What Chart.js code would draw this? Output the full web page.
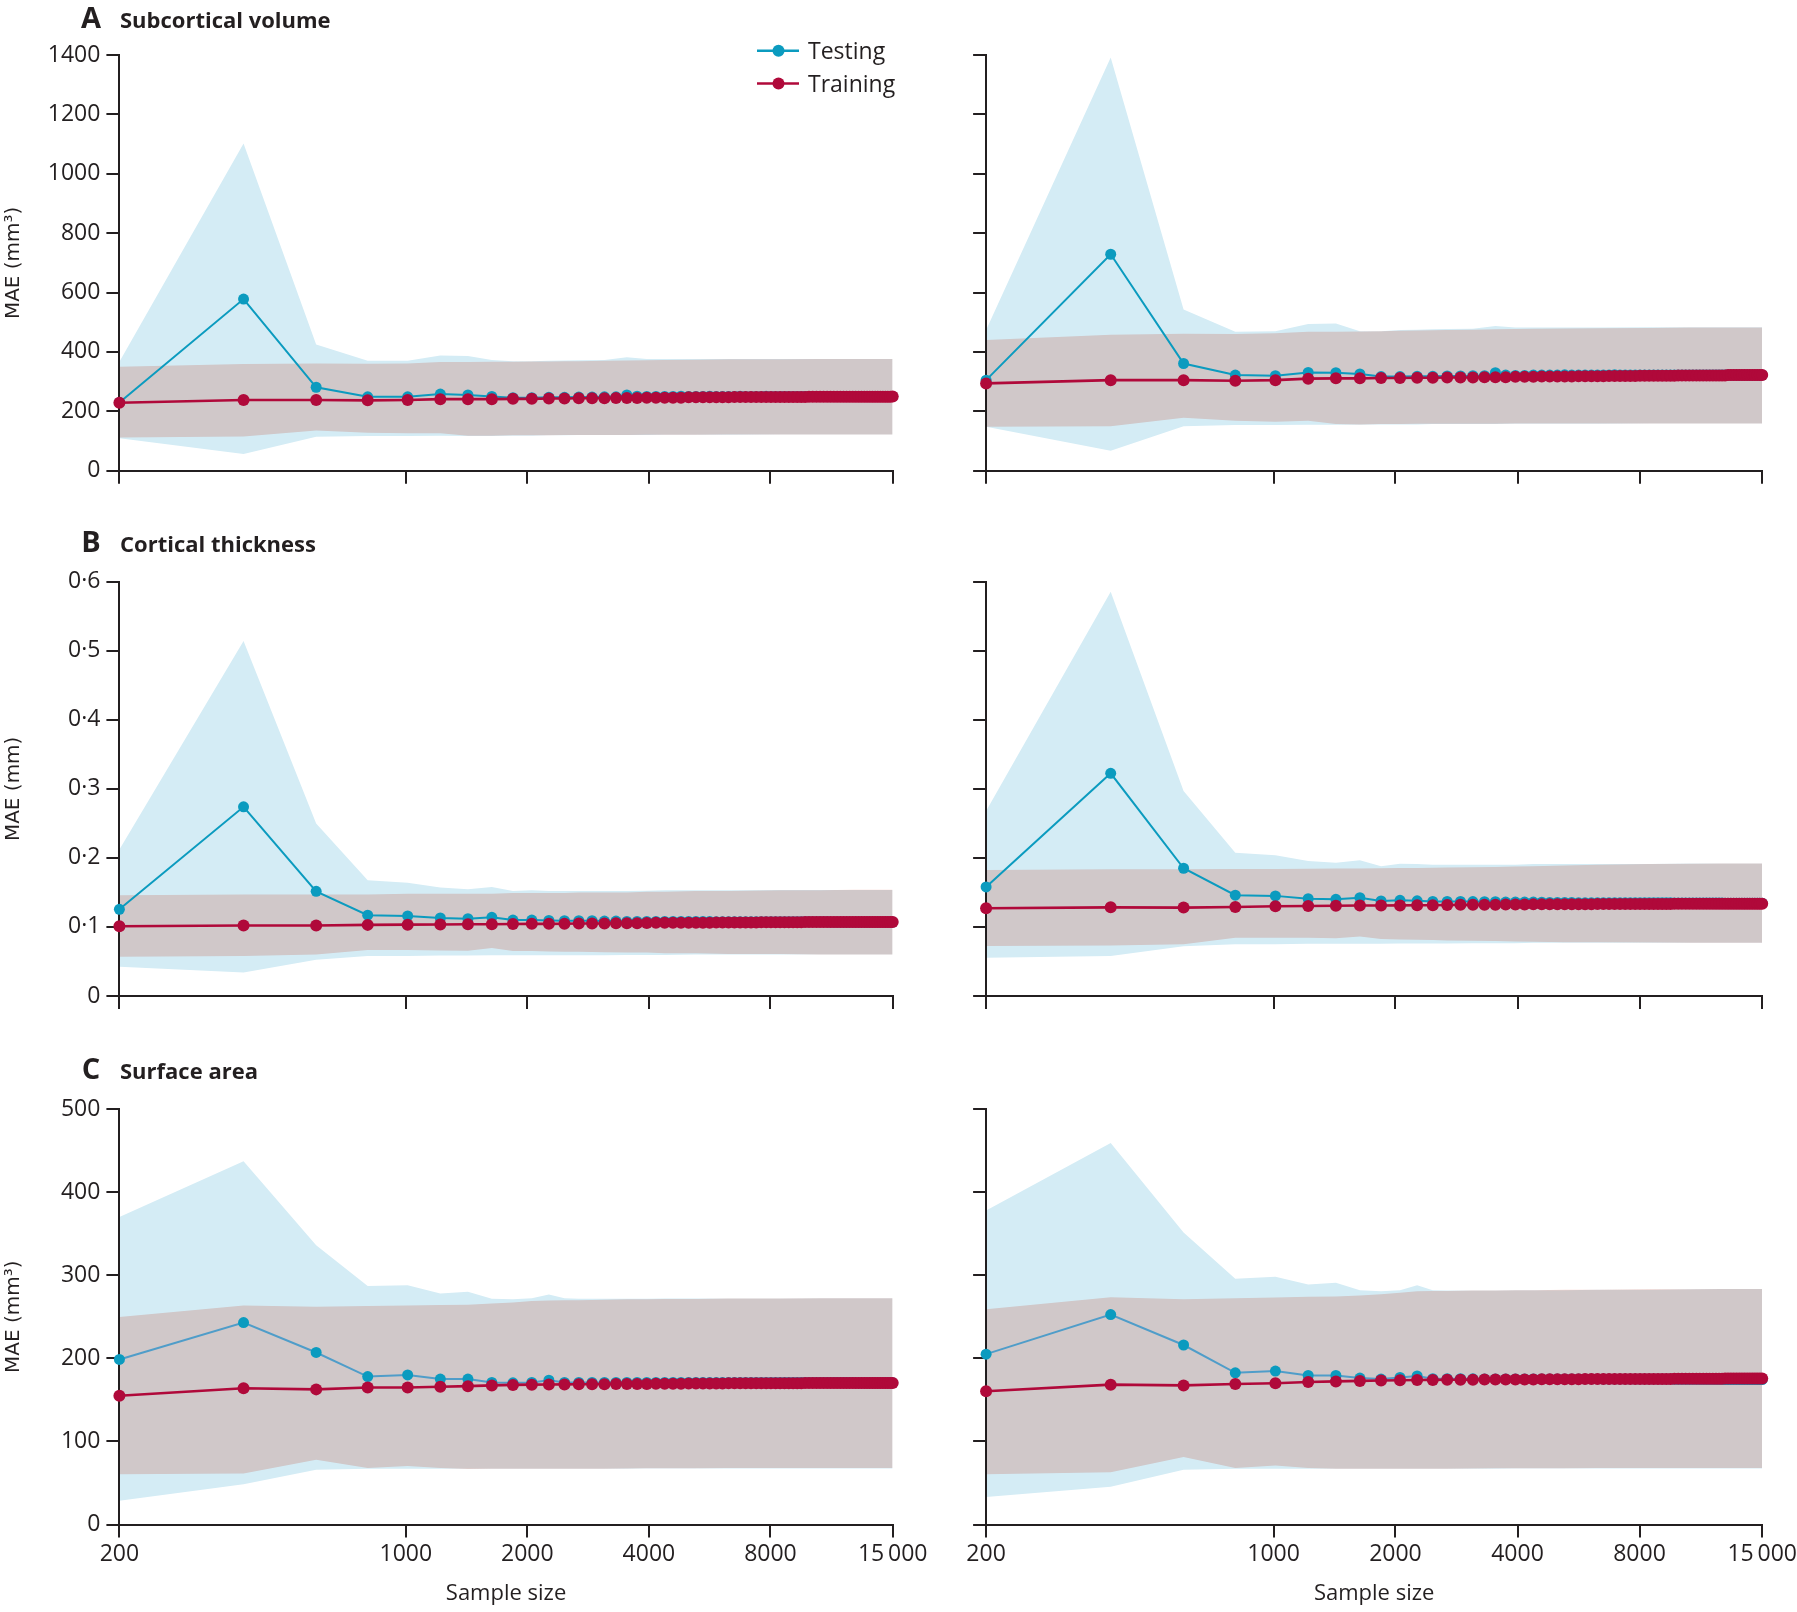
<!DOCTYPE html>
<html>
<head>
<meta charset="utf-8">
<script src="https://cdn.jsdelivr.net/npm/chart.js@4.4.1/dist/chart.umd.min.js"></script>
<style>
body { margin: 0; background: #fff; width: 1797px; height: 1612px; overflow: hidden; position: relative; }
.panel { position: absolute; }
</style>
</head>
<body>
<div class="panel" style="left:0;top:0;width:930px;height:495px"><canvas id="volL"></canvas></div>
<div class="panel" style="left:900px;top:0;width:897px;height:495px"><canvas id="volR"></canvas></div>
<div class="panel" style="left:0;top:500px;width:930px;height:520px"><canvas id="thkL"></canvas></div>
<div class="panel" style="left:900px;top:500px;width:897px;height:520px"><canvas id="thkR"></canvas></div>
<div class="panel" style="left:0;top:1030px;width:930px;height:582px"><canvas id="areaL"></canvas></div>
<div class="panel" style="left:900px;top:1030px;width:897px;height:582px"><canvas id="areaR"></canvas></div>
<script>
// sample sizes of every point on the lines
var sampleSizes = [200,400,600,800,1000,1200,1400,1600,1800,2000,2200,2400,2600,2800,3000,
  3200,3400,3600,3800,4000,4200,4400,4600,4800,5000,5200,5400,5600,5800,6000,
  6200,6400,6600,6800,7000,7200,7400,7600,7800,8000,8200,8400,8600,8800,9000,
  9200,9400,9600,9800,10000,10200,10400,10600,10800,11000,11200,11400,11600,11800,12000,
  12200,12400,12600,12800,13000,13200,13400,13600,13800,14000,14200,14400,14600,14800,15000];
var bandSizes = [200,400,600,800,1000,1200,1400,1600,1800,2000,2200,2400,2600,3000,3400,3800,4200,5000,6000,8000,10000,12000,15000];

// where the printed x ticks sit on the axis (the original ticks sit a little left of the exact values)
var xTickValues = [200,990,1950,3845,7580,15000];
var xTickLabels = ['200','1000','2000','4000','8000','15\u2009000'];
var yTicksVol = [0,200,400,600,800,1000,1200,1400];
var yLabelsVol = ['0','200','400','600','800','1000','1200','1400'];
var yTicksThk = [0,0.1,0.2,0.3,0.4,0.5,0.6];
var yLabelsThk = ['0','0·1','0·2','0·3','0·4','0·5','0·6'];
var yTicksArea = [0,100,200,300,400,500];
var yLabelsArea = ['0','100','200','300','400','500'];

// A subcortical volume, left
var volTestL = [230,578,281,249,249,258,255,250,246,246,247,247,248,248,249,
  249,255,251,250,250,250,250,251,250,250,250,251,250,250,250,
  250,251,250,250,250,250,251,250,250,250,250,250,250,250,250,
  250,250,250,250,250,250,250,250,250,250,250,250,250,250,250,
  250,250,250,250,250,250,250,250,250,250,250,250,250,250,250];
var volTrainL = [229,238,238,237,238,241,241,241,242,242,243,243,244,244,244,
  245,245,245,246,246,246,246,246,247,247,247,247,247,247,247,
  248,248,248,248,248,248,248,248,248,248,248,248,248,248,248,
  248,249,249,249,249,249,249,249,249,249,249,249,249,249,249,
  249,249,249,249,249,249,249,249,249,249,249,249,249,249,250];
var volTestHiL = [367,1102,425,370,370,388,386,373,369,369,370,371,372,373,382,376,376,376,376,376,376,376,376];
var volTestLoL = [109,56,114,117,117,118,117,117,118,118,119,119,120,120,120,120,121,121,121,122,122,122,122];
var volTrainHiL = [350,359,361,360,361,366,366,367,367,368,368,369,369,370,371,372,373,374,375,375,376,376,376];
var volTrainLoL = [112,115,135,128,126,126,118,118,119,119,119,120,120,120,120,121,121,121,122,122,122,122,122];

// A subcortical volume, right
var volTestR = [305,729,361,322,320,331,330,326,317,317,318,318,319,319,320,
  320,330,322,321,321,322,322,322,322,323,322,322,322,322,322,
  322,322,323,322,322,322,322,322,322,322,322,322,322,322,322,
  322,322,322,322,322,322,322,322,322,322,322,322,322,322,322,
  322,322,322,322,322,322,322,322,322,322,322,322,322,322,322];
var volTrainR = [294,305,305,303,305,310,311,311,312,312,313,313,314,314,314,
  315,315,315,316,316,316,317,317,317,317,317,318,318,318,318,
  318,319,319,319,319,319,319,320,320,320,320,320,320,320,320,
  320,321,321,321,321,321,321,321,321,321,321,321,321,321,321,
  321,322,322,322,322,322,322,322,322,322,322,322,322,322,322];
var volTestHiR = [474,1392,543,468,470,494,496,470,470,474,475,476,477,478,487,482,482,482,482,483,483,483,483];
var volTestLoR = [148,67,150,154,154,155,155,155,156,156,156,157,157,157,157,158,158,158,158,159,159,159,159];
var volTrainHiR = [440,458,461,460,463,468,468,469,470,471,472,473,474,475,476,477,478,479,480,481,482,482,482];
var volTrainLoR = [148,150,178,168,165,168,157,156,157,157,158,158,158,158,158,159,159,159,159,159,159,159,159];

// B cortical thickness, left
var thkTestL = [0.1255,0.274,0.1516,0.117,0.116,0.113,0.112,0.114,0.110,0.110,0.1095,0.109,0.109,0.109,0.1085,
  0.1085,0.108,0.108,0.108,0.108,0.108,0.108,0.108,0.108,0.108,0.108,0.108,0.1075,0.1075,0.1075,
  0.1075,0.1075,0.1075,0.1075,0.1075,0.1075,0.1075,0.1075,0.1075,0.1075,0.1075,0.1075,0.1075,0.1075,0.1075,
  0.1075,0.1075,0.1075,0.1075,0.1075,0.1075,0.1075,0.107,0.107,0.107,0.107,0.107,0.107,0.107,0.107,
  0.107,0.107,0.107,0.107,0.107,0.107,0.107,0.107,0.107,0.107,0.107,0.107,0.107,0.107,0.107];
var thkTrainL = [0.101,0.102,0.102,0.103,0.1033,0.1035,0.104,0.104,0.1042,0.1045,0.1045,0.1047,0.105,0.105,0.105,
  0.1052,0.1055,0.1055,0.1057,0.106,0.106,0.106,0.106,0.106,0.1062,0.1062,0.1062,0.1065,0.1065,0.1065,
  0.1065,0.1065,0.1065,0.1065,0.1065,0.1068,0.1068,0.1068,0.1068,0.1068,0.1068,0.1068,0.1068,0.1068,0.1068,
  0.107,0.107,0.107,0.107,0.107,0.107,0.107,0.107,0.107,0.107,0.107,0.107,0.107,0.107,0.107,
  0.107,0.107,0.107,0.107,0.107,0.107,0.107,0.107,0.107,0.107,0.107,0.107,0.107,0.107,0.107];
var thkTestHiL = [0.212,0.514,0.250,0.1675,0.164,0.157,0.1545,0.158,0.152,0.153,0.152,0.152,0.152,0.152,0.152,0.1525,0.153,0.153,0.153,0.1535,0.1535,0.1535,0.1535];
var thkTestLoL = [0.0425,0.034,0.0526,0.058,0.058,0.0585,0.0585,0.059,0.059,0.059,0.059,0.059,0.059,0.059,0.0595,0.0595,0.0595,0.06,0.06,0.06,0.06,0.06,0.06];
var thkTrainHiL = [0.146,0.147,0.147,0.147,0.148,0.148,0.148,0.148,0.149,0.149,0.149,0.149,0.150,0.150,0.150,0.151,0.151,0.152,0.152,0.153,0.153,0.154,0.154];
var thkTrainLoL = [0.057,0.058,0.060,0.0666,0.0666,0.066,0.0657,0.0695,0.065,0.065,0.0645,0.064,0.064,0.0635,0.063,0.063,0.062,0.062,0.061,0.061,0.060,0.060,0.060];

// B cortical thickness, right
var thkTestR = [0.158,0.3225,0.185,0.146,0.145,0.141,0.140,0.1424,0.1376,0.1385,0.1378,0.137,0.137,0.137,0.1368,
  0.1365,0.1365,0.136,0.136,0.136,0.136,0.1358,0.1355,0.1355,0.1355,0.1355,0.135,0.135,0.135,0.135,
  0.135,0.135,0.135,0.135,0.135,0.135,0.135,0.135,0.135,0.135,0.135,0.135,0.135,0.135,0.135,
  0.1348,0.1348,0.1348,0.1348,0.1348,0.1348,0.1348,0.1348,0.1348,0.1348,0.1348,0.1348,0.1348,0.1348,0.1348,
  0.1345,0.1345,0.1345,0.1345,0.1345,0.1345,0.1345,0.1345,0.1345,0.1345,0.1345,0.1345,0.1345,0.1345,0.1345];
var thkTrainR = [0.127,0.1284,0.128,0.129,0.130,0.1303,0.1306,0.131,0.131,0.1312,0.1315,0.1315,0.1318,0.132,0.132,
  0.1322,0.1322,0.1325,0.1325,0.1326,0.1327,0.1328,0.1329,0.133,0.133,0.133,0.133,0.133,0.133,0.1332,
  0.1333,0.1333,0.1333,0.1333,0.1333,0.1333,0.1333,0.1333,0.1333,0.1333,0.1333,0.1333,0.1333,0.1333,0.1333,
  0.1335,0.1335,0.1335,0.1335,0.1335,0.1335,0.1335,0.1335,0.1335,0.1335,0.1335,0.1335,0.1335,0.1335,0.1335,
  0.1337,0.1337,0.1337,0.1337,0.1337,0.1337,0.1337,0.1337,0.1337,0.1337,0.1337,0.1337,0.1337,0.1337,0.1337];
var thkTestHiR = [0.268,0.5855,0.297,0.2076,0.2037,0.1955,0.193,0.1965,0.188,0.1916,0.191,0.190,0.190,0.190,0.190,0.190,0.191,0.191,0.191,0.191,0.192,0.192,0.192];
var thkTestLoR = [0.0555,0.058,0.072,0.075,0.075,0.0755,0.0755,0.0755,0.0758,0.076,0.076,0.076,0.076,0.0765,0.0765,0.0765,0.077,0.077,0.077,0.077,0.077,0.077,0.077];
var thkTrainHiR = [0.1825,0.1834,0.1836,0.1838,0.184,0.1842,0.1845,0.1848,0.185,0.1853,0.1855,0.1858,0.186,0.1865,0.187,0.1875,0.188,0.189,0.190,0.191,0.1915,0.192,0.192];
var thkTrainLoR = [0.0724,0.073,0.075,0.0845,0.0845,0.0845,0.0835,0.086,0.0825,0.082,0.0815,0.081,0.0805,0.080,0.0795,0.079,0.0785,0.078,0.078,0.0775,0.077,0.077,0.077];

// C surface area, left
var areaTestL = [198.6,243,207,178,180,175,175,171,170.5,171,173.6,171,171,171,171,
  171,171,171,171,171,171,171,171,171,171,171,171,171,171,171,
  171,171,171,171,171,171,171,171,171,171,171,171,171,171,171,
  170.8,170.8,170.8,170.8,170.8,170.8,170.8,170.8,170.8,170.8,170.8,170.8,170.8,170.8,170.8,
  170.5,170.5,170.5,170.5,170.5,170.5,170.5,170.5,170.5,170.5,170.5,170.5,170.5,170.5,170.5];
var areaTrainL = [155,164,162.6,164.8,164.8,165.7,166.5,167.4,168,168.3,168.5,168.6,168.7,168.8,168.9,
  169,169,169.1,169.2,169.3,169.4,169.5,169.5,169.6,169.6,169.7,169.7,169.8,169.8,169.9,
  170,170,170,170,170,170,170,170,170,170,170,170,170,170,170,
  170.2,170.2,170.2,170.2,170.2,170.2,170.2,170.2,170.2,170.2,170.2,170.2,170.2,170.2,170.2,
  170.4,170.4,170.4,170.4,170.4,170.4,170.4,170.4,170.4,170.4,170.4,170.4,170.4,170.4,170.4];
var areaTestHiL = [370,437,336,287,288,278,280,271.6,271,272.4,276.8,272.4,271.6,271.6,271.6,271.8,272,272,272,272,272.2,272.4,272.4];
var areaTestLoL = [28.6,48.3,66,67,67,67,67,67,67,67,67,67,67,67,67,67.5,67.5,67.5,67.5,67.5,67.5,67.5,67.5];
var areaTrainHiL = [249.6,263.6,262,263,263.6,264,264.5,266,267,269,269.5,270,270,270.5,271,271,271.5,271.5,272,272,272.2,272.4,272.4];
var areaTrainLoL = [60.6,61.5,77.8,68,70.3,68,66.8,67,67,67,67,67,67,67.2,67.4,67.6,67.6,67.8,68,68,68,68,68];

// C surface area, right
var areaTestR = [205,252.6,216,182.5,184.7,179.3,179.3,176.2,175,177,178.8,175.5,175.5,175.4,175.3,
  175.2,175.2,175.2,175.2,175.2,175.2,175.2,175.2,175.2,175.2,175.2,175.2,175.2,175.2,175.2,
  175,175,175,175,175,175,175,175,175,175,175,175,175,175,175,
  174.8,174.8,174.8,174.8,174.8,174.8,174.8,174.8,174.8,174.8,174.8,174.8,174.8,174.8,174.8,
  174.5,174.5,174.5,174.5,174.5,174.5,174.5,174.5,174.5,174.5,174.5,174.5,174.5,174.5,174.5];
var areaTrainR = [160.4,168.3,167.4,169,170,171.4,172.2,172.8,173.2,173.5,173.8,174,174.1,174.2,174.3,
  174.4,174.4,174.5,174.5,174.6,174.6,174.7,174.7,174.8,174.8,174.9,174.9,175,175,175,
  175.1,175.1,175.1,175.1,175.1,175.1,175.1,175.1,175.1,175.1,175.1,175.1,175.1,175.1,175.1,
  175.3,175.3,175.3,175.3,175.3,175.3,175.3,175.3,175.3,175.3,175.3,175.3,175.3,175.3,175.3,
  175.6,175.6,175.6,175.6,175.6,175.6,175.6,175.6,175.6,175.6,175.6,175.6,175.6,175.6,175.6];
var areaTestHiR = [378,459,351.5,295.7,298,288.7,291,282,280.8,282,287.8,282,281.6,281.6,281.6,281.8,282,282,282.4,282.6,283,283.4,283.4];
var areaTestLoR = [33,45.3,66,67,67,67,67,67,67,67,67,67,67,67,67,67.5,67.5,67.5,67.5,67.5,67.5,67.5,67.5];
var areaTrainHiR = [259,273.5,271,272.4,273.3,274,274.5,275.5,277,279,280.8,281,281,281.5,281.5,282,282,282.5,282.5,283,283,283.4,283.4];
var areaTrainLoR = [60.6,62.8,81.3,68,71,68,67,67,67,67,67,67,67.2,67.4,67.6,67.6,67.6,67.8,68,68,68,68,68];

var INK = '#231f20';
var TEST = '#0b9bbf', TRAIN = '#b0093a';
var TEST_BAND = '#d4ecf5', TRAIN_BAND = '#fad8d2';
var FONT = '"Open Sans", "Liberation Sans", sans-serif';

Chart.defaults.font.family = FONT;
Chart.defaults.color = INK;

function pts(xs, ys) {
  return xs.map(function (x, i) { return {x: x, y: ys[i]}; });
}

// bands multiply where they overlap (grey), lines drawn normally on top
var blend = {
  id: 'blend',
  beforeDatasetsDraw: function (chart) { chart.ctx.globalCompositeOperation = 'multiply'; },
  beforeDatasetDraw: function (chart, args) {
    if (args.index < 2) chart.ctx.globalCompositeOperation = 'source-over';
  },
  afterDatasetsDraw: function (chart) { chart.ctx.globalCompositeOperation = 'source-over'; }
};

// panel letter, panel title and the legend
var panelText = {
  id: 'panelText',
  afterDraw: function (chart, args, o) {
    var ctx = chart.ctx;
    ctx.save();
    ctx.fillStyle = INK;
    ctx.textBaseline = 'alphabetic';
    if (o.letter) {
      ctx.font = 'bold 29px ' + FONT;
      ctx.textAlign = 'center';
      ctx.fillText(o.letter, 91, o.y);
      ctx.font = 'bold 22px ' + FONT;
      ctx.textAlign = 'left';
      ctx.fillText(o.title, 120, o.y);
    }
    if (o.legend) {
      var rows = [{label: 'Testing', color: TEST, y: 50.7}, {label: 'Training', color: TRAIN, y: 83.5}];
      rows.forEach(function (r) {
        ctx.strokeStyle = r.color;
        ctx.lineWidth = 2.5;
        ctx.beginPath(); ctx.moveTo(757, r.y); ctx.lineTo(799, r.y); ctx.stroke();
        ctx.fillStyle = r.color;
        ctx.beginPath(); ctx.arc(778.5, r.y, 6, 0, Math.PI * 2); ctx.fill();
        ctx.fillStyle = INK;
        ctx.font = '23px ' + FONT;
        ctx.textAlign = 'left';
        ctx.fillText(r.label, 808, r.y + 8.5);
      });
    }
    ctx.restore();
  }
};

function lineSet(label, ys, color, lineColor, width, radius) {
  return {
    label: label, data: pts(sampleSizes, ys),
    borderColor: lineColor, backgroundColor: color, borderWidth: width,
    pointRadius: radius, pointBackgroundColor: color, pointBorderColor: color, pointBorderWidth: 0,
    tension: 0, fill: false, clip: false
  };
}

function bandEdge(ys, fill, color) {
  return {
    data: pts(bandSizes, ys), fill: fill, backgroundColor: color || 'rgba(0,0,0,0)',
    borderColor: 'rgba(0,0,0,0)', borderWidth: 0, pointRadius: 0, pointHoverRadius: 0, tension: 0
  };
}

function makePanel(id, c) {
  var axisGrid = {drawOnChartArea: false, drawTicks: true, tickLength: 13, color: INK, lineWidth: 2};
  new Chart(document.getElementById(id), {
    type: 'line',
    data: {
      datasets: [
        lineSet('Training', c.train, TRAIN, TRAIN, 2.6, 6),
        lineSet('Testing', c.test, TEST, c.testLine || TEST, 2, 5.5),
        bandEdge(c.testLo, false),
        bandEdge(c.testHi, '-1', TEST_BAND),
        bandEdge(c.trainLo, false),
        bandEdge(c.trainHi, '-1', TRAIN_BAND)
      ]
    },
    options: {
      responsive: true,
      maintainAspectRatio: false,
      animation: false,
      events: [],
      layout: {padding: {top: c.top, right: c.right, bottom: c.bottom, left: 0}},
      plugins: {
        legend: {display: false},
        tooltip: {enabled: false},
        panelText: {letter: c.letter, title: c.title, y: c.titleY, legend: c.legend}
      },
      scales: {
        x: {
          type: 'logarithmic', min: 200, max: 15000,
          afterBuildTicks: function (s) { s.ticks = xTickValues.map(function (v) { return {value: v}; }); },
          afterFit: function (s) { s.height = c.xh; s.paddingLeft = 0; s.paddingRight = 0; },
          ticks: {
            display: c.xLabels, autoSkip: false, maxRotation: 0, padding: 3, color: INK,
            font: {size: 23}, callback: function (v, i) { return xTickLabels[i]; }
          },
          grid: axisGrid,
          border: {color: INK, width: 2},
          title: {display: c.xLabels, text: 'Sample size', color: INK, font: {size: 22}, padding: 0}
        },
        y: {
          min: 0, max: c.yTicks[c.yTicks.length - 1],
          afterBuildTicks: function (s) { s.ticks = c.yTicks.map(function (v) { return {value: v}; }); },
          afterFit: function (s) { s.width = c.yw; s.paddingTop = 0; s.paddingBottom = 0; },
          ticks: {
            display: c.yLabels !== null, padding: 6, color: INK, font: {size: 23},
            callback: function (v, i) { return c.yLabels ? c.yLabels[i] : ''; }
          },
          grid: axisGrid,
          border: {color: INK, width: 2},
          title: {
            display: !!c.yTitle, text: c.yTitle, color: INK,
            font: {family: '"DejaVu Sans", sans-serif', size: 20}, padding: {top: 2, bottom: 0}
          }
        }
      }
    },
    plugins: [blend, panelText]
  });
}

var leftCol = {yw: 119.4, right: 37.3};
var rightCol = {yw: 86.1, right: 34.8};

function panel(col, row, series) {
  return Object.assign({}, col, row, series);
}

var rowA = {top: 55, bottom: 0, xh: 24.3, xLabels: false, yTicks: yTicksVol};
var rowB = {top: 81.7, bottom: 0, xh: 24, xLabels: false, yTicks: yTicksThk};
var rowC = {top: 79, bottom: 5, xh: 82.5, xLabels: true, yTicks: yTicksArea, testLine: '#4f9dc9'};

makePanel('volL', panel(leftCol, rowA, {
  test: volTestL, train: volTrainL, testHi: volTestHiL, testLo: volTestLoL, trainHi: volTrainHiL, trainLo: volTrainLoL,
  yLabels: yLabelsVol, yTitle: 'MAE (mm³)', letter: 'A', title: 'Subcortical volume', titleY: 28.3, legend: true
}));
makePanel('volR', panel(rightCol, rowA, {
  test: volTestR, train: volTrainR, testHi: volTestHiR, testLo: volTestLoR, trainHi: volTrainHiR, trainLo: volTrainLoR,
  yLabels: null, yTitle: ''
}));
makePanel('thkL', panel(leftCol, rowB, {
  test: thkTestL, train: thkTrainL, testHi: thkTestHiL, testLo: thkTestLoL, trainHi: thkTrainHiL, trainLo: thkTrainLoL,
  yLabels: yLabelsThk, yTitle: 'MAE (mm)', letter: 'B', title: 'Cortical thickness', titleY: 52
}));
makePanel('thkR', panel(rightCol, rowB, {
  test: thkTestR, train: thkTrainR, testHi: thkTestHiR, testLo: thkTestLoR, trainHi: thkTrainHiR, trainLo: thkTrainLoR,
  yLabels: null, yTitle: ''
}));
makePanel('areaL', panel(leftCol, rowC, {
  test: areaTestL, train: areaTrainL, testHi: areaTestHiL, testLo: areaTestLoL, trainHi: areaTrainHiL, trainLo: areaTrainLoL,
  yLabels: yLabelsArea, yTitle: 'MAE (mm³)', letter: 'C', title: 'Surface area', titleY: 49
}));
makePanel('areaR', panel(rightCol, rowC, {
  test: areaTestR, train: areaTrainR, testHi: areaTestHiR, testLo: areaTestLoR, trainHi: areaTrainHiR, trainLo: areaTrainLoR,
  yLabels: null, yTitle: ''
}));
</script>
</body>
</html>
